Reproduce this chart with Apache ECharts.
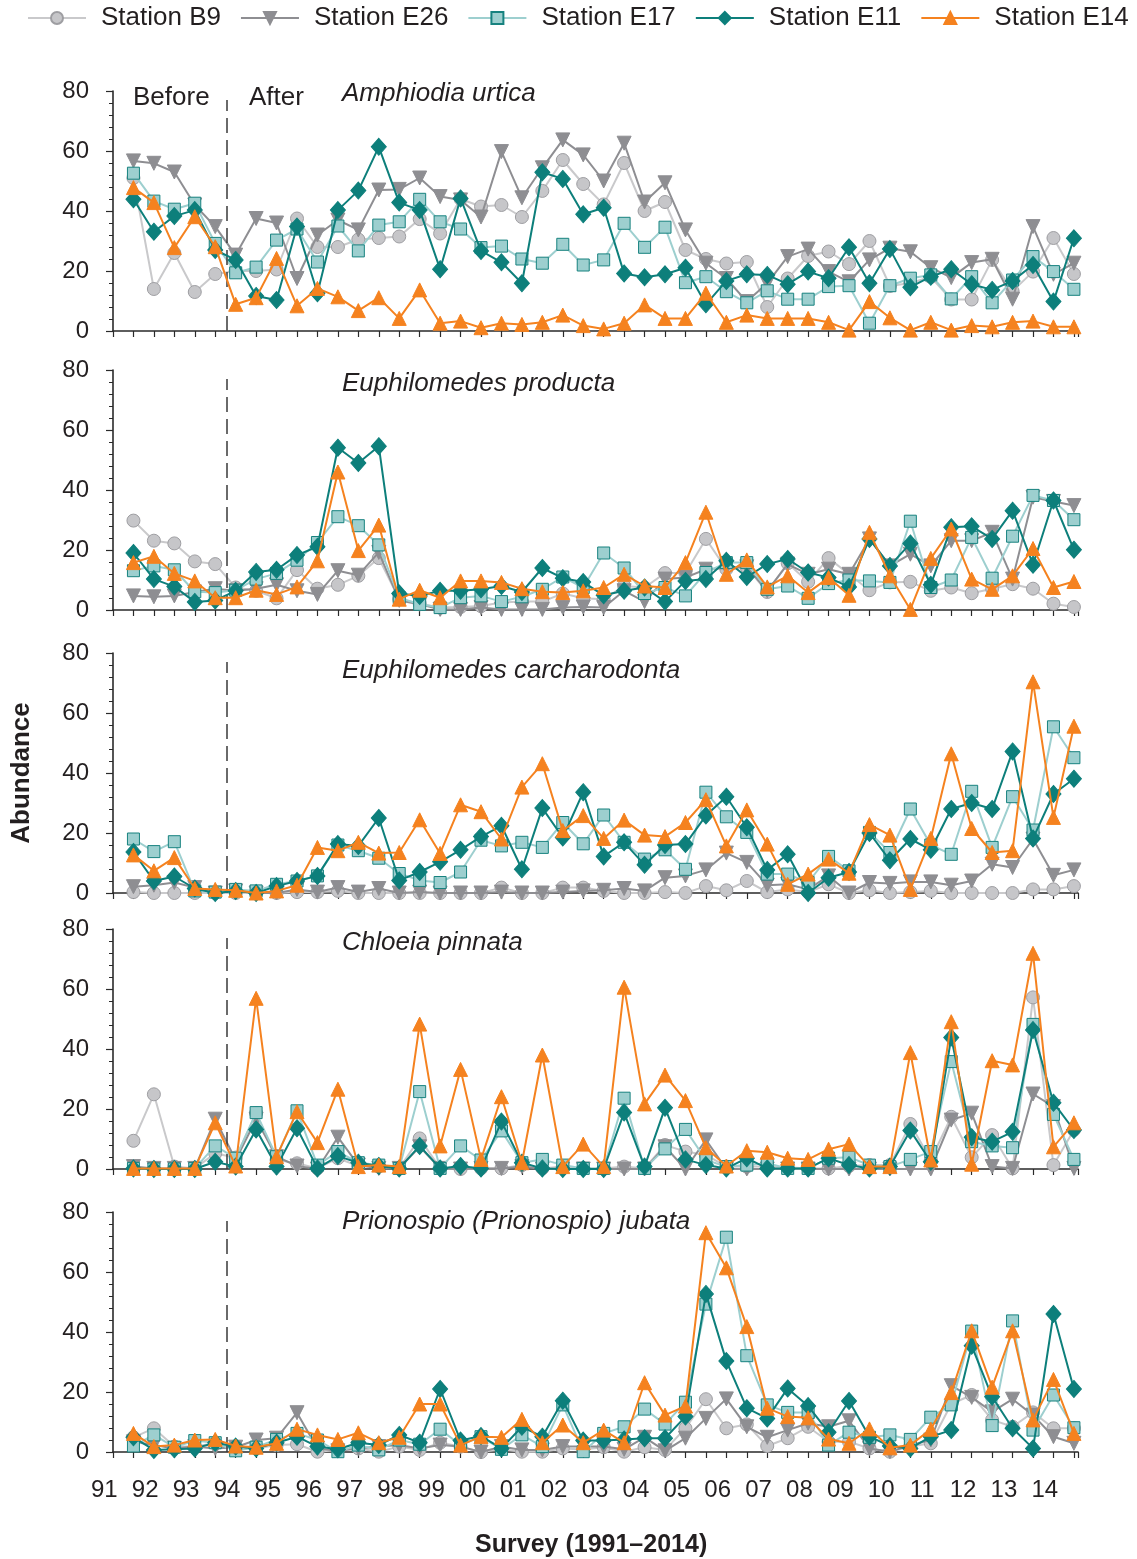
<!DOCTYPE html>
<html><head><meta charset="utf-8">
<script src="https://cdn.jsdelivr.net/npm/echarts@6/dist/echarts.min.js"></script>
<style>html,body{margin:0;padding:0;background:#fff}#c{width:1137px;height:1559px}</style>
</head><body><div id="c"></div>
<script>
// ---------- DATA ----------
const stations = ['Station B9', 'Station E26', 'Station E17', 'Station E11', 'Station E14'];
const species = ['Amphiodia urtica', 'Euphilomedes producta', 'Euphilomedes carcharodonta', 'Chloeia pinnata', 'Prionospio (Prionospio) jubata'];
const yearLabels = ['91','92','93','94','95','96','97','98','99','00','01','02','03','04','05','06','07','08','09','10','11','12','13','14'];
const firstYear = 91;
const impactYear = 94; // Before / After divide

// Panel 1: Amphiodia urtica
const amphB9  = [51,14,26,13,19,20,20,20.5,37.5,28, 28,30.5,31,31.5,37.3,32.5,44,41.5,42,38, 46.7,57,49,42.2,56,40,43,27,24,22.5, 23,8,17.5,25,26.5,22.3,30,15,16,18, 10.5,10.5,23.7,13.3,19.8,31,19];
const amphE26 = [56.7,55.9,53,42,34.8,25.3,37.5,36,17.5,32, 37,33.7,47,47.2,51,44.8,43.7,38,59.8,44.4, 54.4,63.7,58.7,50,62.6,43,49.4,33.7,22.6,17.5, 9.8,15.9,24.8,27.3,19.8,16.4,23.7,27.6,26.4,21.1, 17.8,22.8,23.9,10.6,34.8,18.9,22.6];
const amphE17 = [52.6,43.3,40.6,42.6,29.2,19.4,21.3,30.3,34,23, 35,26.7,35.3,36.4,43.9,36.4,34,27.8,28.3,24, 22.6,28.9,22,23.7,35.9,27.9,34.6,16.1,18.1,13.1, 9.4,13.4,10.6,10.6,14.8,15.1,2.6,15.1,17.6,18.7, 10.7,18.1,9.4,17,24.8,19.8,13.9];
const amphE11 = [43.9,33.1,38.3,40.3,27,23.7,11.7,10.3,34.8,12.6, 40.3,46.8,61.4,42.8,40.3,20.6,44.2,26.7,22.9,15.9, 52.9,50.7,38.9,41.1,19.2,17.9,18.9,21.1,8.9,16.7, 18.9,18.7,15.6,19.8,17.6,27.9,15.9,27.3,14.6,18.1, 20.6,15.6,13.7,16.7,22,9.8,30.9];
const amphE14 = [47.8,42.8,27.8,38.1,28.1,8.9,11.1,24.2,8.4,14.2, 11.4,6.8,11.1,4.2,13.7,2.6,3.3,1.1,2.6,2.2, 2.9,5.3,1.8,0.7,2.6,8.7,4.2,4.2,12.6,2.9, 5.3,4.2,4.2,4.2,2.9,0.3,9.8,4.4,0.3,2.9, 0.3,1.8,1.4,2.9,3.3,1.4,1.4];

// Panel 2: Euphilomedes producta
const prodB9  = [29.8,23.1,22.2,16.2,15.3,7.5,6.4,3.9,13.3,7.1, 8.4,11.4,17.3,3.6,2.1,0.8,1,1.3,2.5,2.8, 2.8,5.5,3.9,3.6,8,7.5,12.3,12.3,23.7,13.6, 14.2,6,15.6,9.4,17.3,11.9,6.6,9.2,9.4,6.4, 7.5,5.6,7.1,8.6,7.1,2.1,1];
const prodE26 = [4.7,4.4,4.7,6,7.1,6.4,7.1,8.4,6.4,5.2, 13.1,11.6,19.2,3.2,1.9,0.2,0.2,0.8,0.2,0.2, 0.2,0.8,1,0.8,6.4,2.8,10.3,10.8,13.6,14, 14.4,6.4,15.3,11.9,13.6,11.9,23.7,14.7,18.6,14.7, 23.1,23.1,25.9,10.3,37.6,36.2,34.8];
const prodE17 = [13.1,14.7,13.4,6.1,5.8,6.6,10.3,12.2,16.6,22.5, 31.1,28.1,21.7,4.1,1.9,0.8,4.1,4.7,2.8,4.4, 6.9,11,7.5,19,14,5.5,7.5,4.7,12.5,15.8, 15.8,6.9,8,3.9,8.8,10,9.7,9.2,29.6,7.5, 10,24.2,10.6,24.6,38.2,36.5,30.1];
const prodE11 = [19,10.3,7.8,2.7,3.2,6.4,12.7,13.4,18.3,21.1, 54.1,49,54.6,5.5,4.7,6.4,6.4,6.9,8,6, 14,10.6,9.3,4.9,6.4,7.5,2.8,9.7,10.3,16.4, 11,15.3,17,12.5,10.8,7.7,23.7,14.7,22.2,8.4, 27.6,27.9,23.7,33.1,15.1,36.5,20.1];
const prodE14 = [15.8,17.9,12.2,9.7,4.1,4.1,6.6,5.2,7.7,16.4, 46,19.8,28.3,3.6,6.6,4.1,9.7,9.7,9.2,7.1, 6.1,5.8,6.4,7.5,11.9,8,7.5,15.8,32.6,11.9, 16.7,7.7,11.4,5.8,10.8,4.9,25.9,11.4,0.2,17.2, 27,10.3,6.9,11.4,20.5,7.5,9.5];

// Panel 3: Euphilomedes carcharodonta
const carcB9  = [0.3,0,0,0,0,0,0,0,0.3,0.3, 0.7,0,0,0,0,0,0,0,1.8,0, 0,1.8,1.8,0.7,0,0,0.3,0,2.3,0.9, 4,0.3,1.2,0.3,2.9,0,0.9,0,0.3,0.7, 0,0,0,0,1.2,1.2,2.3];
const carcE26 = [2.1,2.6,3.5,1.8,0,0.7,0,0,1.2,0.3, 1.8,0.3,1.5,0,0.3,0,0,0,0.3,0, 0,0.3,0.7,0.9,1.5,0.7,5.1,5.7,7.7,13.3, 10.2,2.6,2.9,1.2,5.7,0,3.5,3.2,3.7,3.7, 2.6,4,9.6,8.5,18,5.9,7.7];
const carcE17 = [18,13.8,17.1,0.7,0.3,1.2,0.7,2.9,4,5.7, 16,14.1,11.6,6.5,4.2,3.5,7,17.6,15.7,16.9, 15.2,23.5,16.4,26,16.9,11.3,14.4,7.9,33.6,25.4, 20.2,6.3,6.3,3.5,12.2,7.4,20.2,13.5,28,16, 12.9,33.9,15.2,32.1,21,55.4,45.1];
const carcE11 = [13.7,4,5.5,1.5,0,0.7,0,2.3,4,5.7, 16.3,15.7,25,4.2,7,10.4,14.4,18.8,22.4,7.9, 28.3,18.5,33.6,12.2,16.9,9.4,16,16.3,25.8,32.1, 21.9,7.7,12.9,0,5.1,7,20,10.9,18,14.4, 28,30,28,47.2,18.2,33,38.1];
const carcE14 = [12.7,7.4,11.8,1.5,1.2,0.9,0,0.7,2.6,15.2, 14.1,16.9,13.3,13.5,24.4,13.2,29.4,27.1,18,35.3, 43.1,20.8,25.8,18.2,24.3,19.3,18.8,23.5,31.1,15.7, 27.7,16.3,2.9,6.3,11.3,6.6,22.8,19.3,1.2,18.2, 46.4,21.5,13.5,14.1,70.4,25.2,55.6];

// Panel 4: Chloeia pinnata
const chloB9  = [9.4,24.9,0.8,0.2,5.2,3.8,18.6,3,1.9,0.2, 3.6,1,0.8,0.2,10.2,0.2,0,0.2,0.2,1.3, 0.2,0.8,0.2,0.2,0.8,0.2,8,5.8,4.7,0.8, 0.8,0.8,0.6,0.2,0.2,1,1.3,1.3,15,3, 17.4,3.9,11.3,0.2,57.2,1.3,13];
const chloE26 = [0.8,0.2,0.2,0.2,16.6,3,16.6,4.1,1,0, 10.6,1.3,0.2,0.2,7.4,0.2,0,0.2,0.2,0.8, 0,0,0,0,0,0,7.4,0,9.7,0, 0,0,0,0,0,0,0,0,0,0, 16.3,18.6,0.8,0.2,25,20.8,0.2];
const chloE17 = [0.2,0,0,0.2,7.7,3.6,18.8,4.1,19.4,1.3, 5.8,2.1,1.3,0.2,25.8,0.2,7.7,3,12.7,2.1, 3.2,1.3,0.2,0.2,23.6,0.2,6.7,13.2,3,0.8, 1.3,1.9,0.2,0.2,3.6,3.9,1.3,0.8,3.2,5.8, 35.8,9.1,7.7,7.1,48.2,18.2,3.2];
const chloE11 = [0.2,0,0,0,2.4,0.8,13.2,0.8,13.6,0.2, 4.3,2.1,1,0.2,7.7,0.2,1,0.2,15.8,2.1, 0.2,0,0,0,18.8,0.8,20.4,3.2,1.3,0.2, 3.6,0.2,0.2,0.2,3.6,1.3,0.2,0.8,12.8,2.4, 43.8,10.6,9.1,12.4,46.3,22.1,13];
const chloE14 = [0.2,0.2,0.2,0.2,15.4,1,56.9,4.1,19.1,8.8, 26.6,0.8,1.3,0.8,48.3,7.7,33.2,3.2,24.1,2.1, 38,0.8,8.3,0.8,60.6,21.7,31.3,22.8,7.1,1, 6.1,5.6,3.6,3.2,6.6,8.3,0.8,0.8,38.8,3, 49.1,1.6,36.1,34.7,71.9,7.4,15.4];

// Panel 5: Prionospio (Prionospio) jubata
const prioB9  = [4.9,7.9,1.8,1.8,2.9,1.8,1.2,2.3,2.6,0.1, 0.7,1.2,0.1,1.8,0.7,3.1,1.8,0,0.9,0.1, 0.1,1.2,0.8,1.6,0.1,1.6,0.7,7.9,17.6,7.9, 9.2,2,4.6,8.4,3.4,3.4,1.2,0.1,1.8,2.9, 16,19,10.7,8.4,13.2,7.9,7.9];
const prioE26 = [3.4,2.3,1.2,1.8,1.2,1.6,4,4.6,13.1,1.2, 0.4,1.2,1.8,2.3,1.2,2.3,1.8,0,1.8,0.7, 0.7,1.8,1.8,1.8,0.9,4.9,0.4,4.6,11.2,17.7, 8.4,4.9,7.3,9.6,8.4,10.4,1.2,0.1,2.3,4, 22.1,18.2,13.4,17.6,12.3,5.1,2.9];
const prioE17 = [2,5.7,1.6,3.8,3.1,0.4,1.6,4.2,6.2,4, 0.1,2.3,0.7,4,2.6,7.6,2.3,5.1,0.9,5.7, 1.8,15.7,0.1,6.2,8.4,14.3,9.3,16.6,49.3,71.6, 32.1,15.7,13.2,13.2,2.3,6.6,4.9,5.7,4.2,11.6, 15.7,40.3,8.8,43.7,7.3,19,8.1];
const prioE11 = [4.9,0.7,0.9,1.2,3.1,1.8,1.2,3.1,5.1,1.8, 0.9,3.1,2.3,5.7,3.1,21,3.8,5.3,1.2,8.4, 5.1,17.1,3.8,3.8,4.2,4.6,4.6,11.8,52.7,30.3, 14.6,11.2,21.2,15.3,6.6,17,5.1,2,1.2,5.1, 7.3,35.4,18.4,7.9,1.2,46,21];
const prioE14 = [6.2,1.8,2.3,4,4.2,2,1.6,2.9,7.6,5.7, 4.2,6.4,3.1,4.9,16,16,2.3,5.1,4.9,10.9, 3.1,9,3.1,7.3,3.1,23.1,12.3,15.3,73.1,61.4, 41.8,14.6,11.8,11.4,4.3,2.9,7.7,1.4,2.3,7.6, 19.8,40.4,21.6,40.4,10.7,24.2,6.2];

const panels = [
  [amphB9, amphE26, amphE17, amphE11, amphE14],
  [prodB9, prodE26, prodE17, prodE11, prodE14],
  [carcB9, carcE26, carcE17, carcE11, carcE14],
  [chloB9, chloE26, chloE17, chloE11, chloE14],
  [prioB9, prioE26, prioE17, prioE11, prioE14]
];

// ---------- LAYOUT / STYLE ----------
const FONT = '"Liberation Sans", Arial, Helvetica, sans-serif';
const TXT = '#231f20';
const gridTops = [91, 370, 653, 929, 1212];
const gridH = 240;
const gridLeft = 113, gridRight = 59;
const xMaxU = 47.2;               // axis extent in half-year units (survey i at i+1)
const yearOffsetU = -0.425;        // position of year 91.0 in half-year units
const impactU = 2 * (impactYear - firstYear) + yearOffsetU;
const yearPx = 2 * (1137 - gridLeft - gridRight) / xMaxU;  // px per year
const labelLeft = gridLeft + yearOffsetU * yearPx / 2;
const labelMax = firstYear + (1137 - gridRight - labelLeft) / yearPx;

const styles = [
  { symbol: 'circle', symbolSize: 13, symbolRotate: 0, line: '#c9c9cb', fill: '#c6c6c9', border: '#9e9ea2' },
  { symbol: 'triangle', symbolSize: 14, symbolRotate: 180, line: '#8e8e92', fill: '#8e8e92', border: '#8e8e92' },
  { symbol: 'rect', symbolSize: 12, symbolRotate: 0, line: '#9dcfcf', fill: '#9dcfcf', border: '#17827f' },
  { symbol: 'diamond', symbolSize: [15, 17], symbolRotate: 0, line: '#0d7f7b', fill: '#0d7f7b', border: '#0d7f7b' },
  { symbol: 'triangle', symbolSize: 14, symbolRotate: 0, line: '#f5821f', fill: '#f5821f', border: '#f5821f' }
];

const grids = [], xAxes = [], yAxes = [], series = [];
gridTops.forEach((top, p) => {
  grids.push({ left: gridLeft, right: gridRight, top: top, height: gridH, containLabel: false });
  xAxes.push({
    type: 'value', gridIndex: p, min: 0, max: xMaxU, interval: 1,
    axisLine: { show: true, onZero: false, lineStyle: { color: '#2a2a2a', width: 1.6 } },
    axisTick: { show: true, length: 6, lineStyle: { color: '#2a2a2a', width: 1.2 } },
    axisLabel: { show: false }, splitLine: { show: false }
  });
  yAxes.push({
    type: 'value', gridIndex: p, min: 0, max: 80, interval: 20,
    axisLine: { show: true, lineStyle: { color: '#2a2a2a', width: 1.6 } },
    axisTick: { show: true, length: 7, lineStyle: { color: '#2a2a2a', width: 1.2 } },
    minorTick: { show: true, splitNumber: 5, length: 4, lineStyle: { color: '#2a2a2a', width: 1 } },
    axisLabel: { show: true, fontSize: 24, color: TXT, fontFamily: FONT, margin: 24 },
    splitLine: { show: false },
    name: p === 2 ? 'Abundance' : '',
    nameLocation: 'middle', nameRotate: 90, nameGap: 78,
    nameTextStyle: { fontSize: 26, fontWeight: 'bold', color: TXT, fontFamily: FONT }
  });
  panels[p].forEach((vals, s) => {
    const st = styles[s];
    const ser = {
      type: 'line', name: stations[s], xAxisIndex: p, yAxisIndex: p,
      data: vals.map((v, i) => [i + 1, v]),
      symbol: st.symbol, symbolSize: st.symbolSize, symbolRotate: st.symbolRotate,
      showSymbol: true, showAllSymbol: true, clip: false,
      lineStyle: { color: st.line, width: 2 },
      itemStyle: { color: st.fill, borderColor: st.border, borderWidth: 1 },
      emphasis: { disabled: true }, z: 2 + s
    };
    if (s === 0) {
      ser.markLine = {
        silent: true, symbol: 'none', label: { show: false }, animation: false,
        lineStyle: { type: [15, 7], color: '#3a3a3a', width: 1.5 },
        data: [[{ coord: [impactU, 0] }, { coord: [impactU, 77] }]]
      };
    }
    series.push(ser);
  });
});

// year label axis (bottom)
grids.push({ left: labelLeft, right: gridRight, top: gridTops[4], height: gridH });
xAxes.push({
  type: 'value', gridIndex: 5, min: firstYear, max: labelMax, interval: 1,
  axisLine: { show: false }, axisTick: { show: false }, splitLine: { show: false },
  axisLabel: {
    show: true, fontSize: 24, color: TXT, fontFamily: FONT, margin: 26,
    formatter: v => (Number.isInteger(v) && yearLabels[v - firstYear] !== undefined) ? yearLabels[v - firstYear] : ''
  },
  name: 'Survey (1991–2014)', nameLocation: 'middle', nameGap: 81,
  nameTextStyle: { fontSize: 25, fontWeight: 'bold', color: TXT, fontFamily: FONT }
});
yAxes.push({ type: 'value', gridIndex: 5, min: 0, max: 80, show: false });

const titleCenters = [95, 385, 672, 944, 1223];
const titles = species.map((sp, p) => ({
  text: sp, left: 342, top: titleCenters[p] - 14, padding: 0,
  textStyle: { fontSize: 26, fontStyle: 'italic', fontWeight: 'normal', color: TXT, fontFamily: FONT }
}));
titles.push({ text: 'Before', left: 133, top: 85, padding: 0, textStyle: { fontSize: 26, fontWeight: 'normal', color: TXT, fontFamily: FONT } });
titles.push({ text: 'After', left: 249, top: 85, padding: 0, textStyle: { fontSize: 26, fontWeight: 'normal', color: TXT, fontFamily: FONT } });

const option = {
  animation: false,
  backgroundColor: '#fff',
  title: titles,
  legend: {
    data: stations, top: 0, left: 22, itemWidth: 58, itemHeight: 15, itemGap: 19,
    textStyle: { fontSize: 26, color: TXT, fontFamily: FONT, padding: [0, 0, 0, 10] }
  },
  grid: grids, xAxis: xAxes, yAxis: yAxes, series: series
};

const chart = echarts.init(document.getElementById('c'), null, { renderer: 'canvas' });
chart.setOption(option);
</script>
</body></html>
